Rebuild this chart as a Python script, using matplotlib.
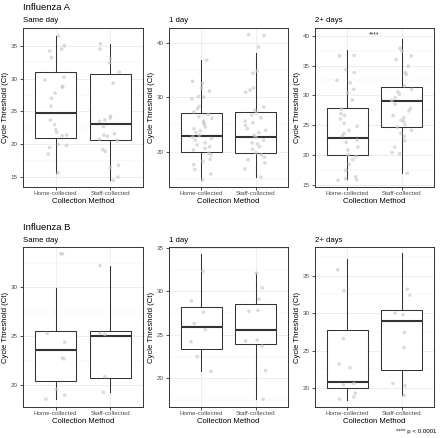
import numpy as np
import matplotlib
matplotlib.use("Agg")
import matplotlib.pyplot as plt
from matplotlib.ticker import FixedLocator

plt.rcParams['font.family'] = ['Liberation Sans', 'DejaVu Sans']

categories = ["Home-collected", "Staff-collected"]
row_titles = ["Influenza A", "Influenza B"]
panel_titles = ["Same day", "1 day", "2+ days"]

# box stats: [whisker_low, q1, median, q3, whisker_high]
a_same_home_stats = [15.7, 21.0, 24.8, 31.0, 36.5]
a_same_staff_stats = [14.5, 20.6, 23.1, 30.7, 35.3]
a_1d_home_stats = [14.8, 20.0, 22.85, 27.0, 36.8]
a_1d_staff_stats = [15.3, 19.8, 22.6, 27.3, 38.2]
a_2d_home_stats = [16.0, 19.9, 22.8, 27.8, 37.6]
a_2d_staff_stats = [16.9, 24.6, 29.0, 31.4, 39.5]
b_same_home_stats = [18.6, 20.4, 23.6, 25.5, 29.9]
b_same_staff_stats = [19.3, 20.8, 25.0, 25.5, 32.2]
b_1d_home_stats = [20.8, 23.35, 25.9, 28.2, 34.3]
b_1d_staff_stats = [17.6, 24.0, 25.5, 28.5, 32.1]
b_2d_home_stats = [18.4, 20.0, 20.8, 27.7, 37.3]
b_2d_staff_stats = [19.0, 22.4, 29.0, 30.4, 38.0]

# individual Ct values (jittered points)
a_same_home_pts = [36.5, 35.0, 34.5, 34.2, 33.2, 30.2, 29.8, 28.8, 28.7, 27.8, 27.0, 25.8,
                   23.7, 23.0, 22.2, 21.8, 21.4, 21.3, 20.0, 19.8, 19.5, 18.5, 15.7]
a_same_staff_pts = [35.3, 34.5, 33.0, 32.4, 31.0, 29.3, 24.3, 24.0, 23.7, 23.5, 22.7, 21.6,
                    21.4, 21.2, 20.8, 20.6, 19.2, 18.9, 16.8, 16.5, 15.0, 14.5]
a_1d_home_pts = [36.8, 32.9, 32.5, 31.7, 31.1, 30.1, 30.0, 29.7, 28.3, 27.9, 27.3, 26.8,
                 26.4, 26.1, 25.6, 25.3, 25.0, 24.5, 24.2, 23.8, 23.5, 23.0, 22.7, 22.4,
                 22.1, 21.6, 21.2, 20.9, 20.6, 20.3, 19.7, 19.4, 18.6, 18.2, 17.6, 16.7,
                 15.9, 14.8]
a_1d_staff_pts = [41.5, 41.3, 39.2, 34.8, 34.4, 31.7, 31.3, 30.9, 28.2, 27.6, 27.1, 26.7,
                  26.2, 25.6, 25.3, 24.8, 24.2, 23.9, 23.5, 23.0, 22.6, 22.1, 21.6, 21.4,
                  20.9, 20.4, 19.8, 19.4, 19.0, 18.5, 17.9, 16.8, 15.3]
a_2d_home_pts = [36.7, 36.6, 34.3, 33.8, 32.5, 32.1, 31.0, 30.4, 29.2, 27.7, 26.9, 26.6,
                 26.0, 25.3, 24.8, 24.1, 23.6, 23.2, 22.5, 22.1, 21.3, 20.8, 20.0, 19.7,
                 19.2, 18.4, 17.4, 16.3, 16.0, 15.8, 15.7]
a_2d_staff_pts = [37.9, 37.4, 36.6, 36.0, 34.9, 33.8, 33.5, 31.6, 31.0, 30.6, 30.2, 29.6,
                  29.1, 28.5, 27.8, 27.4, 26.6, 26.2, 25.8, 25.6, 25.1, 24.6, 24.1, 23.6,
                  23.1, 22.4, 21.3, 20.4, 20.2, 16.9]
b_same_home_pts = [33.4, 33.4, 25.3, 24.4, 22.8, 22.7, 19.6, 19.0, 18.6]
b_same_staff_pts = [32.2, 25.3, 25.2, 20.9, 19.3]
b_1d_home_pts = [32.3, 28.9, 27.6, 26.3, 25.6, 24.2, 22.5, 20.8]
b_1d_staff_pts = [32.1, 30.4, 29.1, 27.8, 27.7, 24.4, 24.3, 23.7, 20.9, 17.6]
b_2d_home_pts = [35.8, 33.0, 26.6, 23.2, 22.7, 20.6, 20.4, 19.3, 18.8, 18.5]
b_2d_staff_pts = [33.2, 32.4, 30.0, 29.8, 27.4, 25.4, 20.6, 20.3, 19.0]

panels = [
    (a_same_home_stats, a_same_staff_stats, a_same_home_pts, a_same_staff_pts, [15, 20, 25, 30, 35], (13.5, 37.7)),
    (a_1d_home_stats, a_1d_staff_stats, a_1d_home_pts, a_1d_staff_pts, [20, 30, 40], (13.5, 42.7)),
    (a_2d_home_stats, a_2d_staff_stats, a_2d_home_pts, a_2d_staff_pts, [15, 20, 25, 30, 35, 40], (14.6, 41.3)),
    (b_same_home_stats, b_same_staff_stats, b_same_home_pts, b_same_staff_pts, [20, 25, 30], (17.8, 34.1)),
    (b_1d_home_stats, b_1d_staff_stats, b_1d_home_pts, b_1d_staff_pts, [20, 25, 30, 35], (16.7, 35.1)),
    (b_2d_home_stats, b_2d_staff_stats, b_2d_home_pts, b_2d_staff_pts, [20, 25, 30, 35], (17.45, 38.85)),
]

W, H = 440, 438
fig = plt.figure(figsize=(W / 100, H / 100), dpi=100)

col_left = [23, 169, 315]
col_w = [120, 119, 119]
row_top = [28, 247]
row_bot = [187, 407]

rng = np.random.default_rng(7)
gray20 = "#333333"

for i, (hs, ss, hp, sp, ticks, ylim) in enumerate(panels):
    r, c = divmod(i, 3)
    ph = row_bot[r] - row_top[r]
    ax = fig.add_axes([col_left[c] / W, 1 - row_bot[r] / H, col_w[c] / W, ph / H])
    stats = []
    for st, lab in zip([hs, ss], categories):
        stats.append(dict(whislo=st[0], q1=st[1], med=st[2], q3=st[3], whishi=st[4], label=lab))
    ax.bxp(stats, positions=[1, 2], widths=0.75, showfliers=False, showcaps=False,
           patch_artist=True, manage_ticks=False,
           boxprops=dict(facecolor="white", edgecolor=gray20, linewidth=0.75),
           whiskerprops=dict(color=gray20, linewidth=0.75),
           medianprops=dict(color=gray20, linewidth=1.5),
           zorder=2)
    for pos, pts in zip([1, 2], [hp, sp]):
        pts = np.asarray(pts)
        xs = pos + rng.uniform(-0.2, 0.2, len(pts))
        ax.scatter(xs, pts, s=7, color="#c8c8c8", alpha=0.65, edgecolors="none", zorder=3)

    ax.set_xlim(0.4, 2.6)
    ax.set_ylim(*ylim)
    step = ticks[1] - ticks[0]
    minor = [t - step / 2 for t in ticks] + [ticks[-1] + step / 2]
    ax.yaxis.set_major_locator(FixedLocator(ticks))
    ax.yaxis.set_minor_locator(FixedLocator(minor))
    ax.xaxis.set_major_locator(FixedLocator([1, 2]))
    ax.set_xticklabels(categories)
    ax.grid(True, which="major", color="#ebebeb", linewidth=0.6, zorder=0)
    ax.grid(True, which="minor", axis="y", color="#f2f2f2", linewidth=0.35, zorder=0)
    ax.set_axisbelow(True)
    for sp_ in ax.spines.values():
        sp_.set_color(gray20)
        sp_.set_linewidth(0.7)
    ax.tick_params(which="major", length=2.2, width=0.6, color=gray20, labelcolor="#4d4d4d",
                   labelsize=4.5, pad=1.6)
    ax.tick_params(axis="x", pad=1.0)
    ax.tick_params(which="minor", length=0)
    ax.set_xlabel("Collection Method", fontsize=5.6, labelpad=1.0)
    ax.set_ylabel("Cycle Threshold (Ct)", fontsize=5.6, labelpad=1.5)
    sub_y = 20 if r == 0 else 240
    fig.text(col_left[c] / W, 1 - sub_y / H, panel_titles[c], fontsize=5.6,
             ha="left", va="center")
    if c == 0:
        t_y = 7 if r == 0 else 228
        fig.text(col_left[c] / W, 1 - t_y / H, row_titles[r], fontsize=6.8,
                 ha="left", va="center")
    if i == 2:
        ax.text(1.5, 40.1, "****", ha="center", va="center", fontsize=5, color="#333333")

fig.text(436 / W, 1 - 432 / H, "**** p < 0.0001", fontsize=4.4, ha="right", va="center")

fig.savefig("out.png", dpi=100)
